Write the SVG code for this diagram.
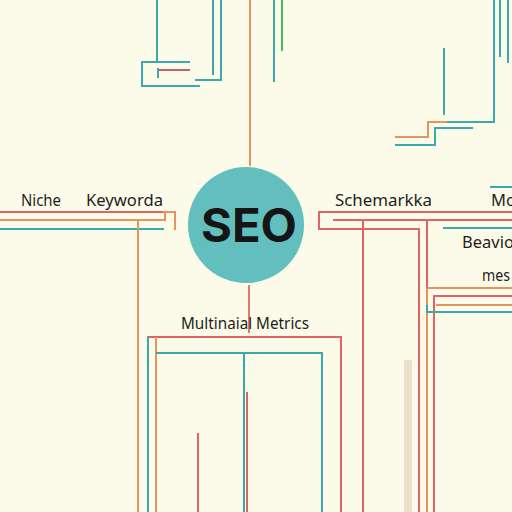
<svg xmlns="http://www.w3.org/2000/svg" width="512" height="512" viewBox="0 0 512 512">
<style>
.bg{fill:#fcfbe9}
.ln{fill:none;stroke-width:2;stroke-linecap:butt;stroke-linejoin:miter}
.t{stroke:#3aabaa}
.r{stroke:#e06464}
.o{stroke:#e6945e}
.g{stroke:#4cbb5c}
.lbl{font-family:"Noto Sans","Open Sans","Liberation Sans",sans-serif;font-size:16.5px;fill:#1e1e1e}
</style>
<rect class="bg" x="0" y="0" width="512" height="512"/>
<g id="connectors">
  <line class="ln o" x1="250" y1="0" x2="250" y2="166"/>
  <line class="ln t" x1="157" y1="0" x2="157" y2="63"/>
  <polyline class="ln t" points="190,62 142,62 142,86 200,86"/>
  <line class="ln t" x1="158" y1="68" x2="158" y2="78"/>
  <line class="ln r" x1="158" y1="70" x2="190" y2="70" style="stroke:#c0607a"/>
  <polyline class="ln t" points="221,0 221,80 195,80"/>
  <line class="ln t" x1="213" y1="0" x2="213" y2="75"/>
  <line class="ln t" x1="274" y1="0" x2="274" y2="82"/>
  <line class="ln g" x1="282" y1="0" x2="282" y2="51"/>
  <polyline class="ln t" points="494,0 494,122 447,122"/>
  <polyline class="ln o" points="447,122 428,122 428,137 395,137"/>
  <polyline class="ln t" points="473,128 435,128 435,145 395,145"/>
  <line class="ln t" x1="500" y1="0" x2="500" y2="57"/>
  <line class="ln t" x1="508" y1="0" x2="508" y2="63"/>
  <line class="ln t" x1="444" y1="48" x2="444" y2="115"/>
  <line class="ln r" x1="0" y1="212" x2="163" y2="212"/>
  <polyline class="ln o" points="163,212 175,212 175,230"/>
  <polyline class="ln o" points="0,220 165,220 165,212"/>
  <line class="ln t" x1="0" y1="229" x2="164" y2="229"/>
  <line class="ln o" x1="138" y1="220" x2="138" y2="512"/>
  <line class="ln o" x1="249" y1="285" x2="249" y2="333" style="stroke:#e07a60"/>
  <polyline class="ln t" points="148,512 148,337 150,337"/>
  <polyline class="ln r" points="148,337 341,337 341,512"/>
  <line class="ln o" x1="156" y1="337" x2="156" y2="512"/>
  <polyline class="ln t" points="156,353 322,353 322,512"/>
  <line class="ln t" x1="244" y1="353" x2="244" y2="512"/>
  <line class="ln r" x1="247" y1="392" x2="247" y2="512"/>
  <line class="ln r" x1="198" y1="433" x2="198" y2="512"/>
  <polyline class="ln r" points="512,212 319,212 319,229 419,229 419,512"/>
  <line class="ln r" x1="333" y1="220" x2="512" y2="220"/>
  <line class="ln r" x1="363" y1="220" x2="363" y2="512"/>
  <line class="ln r" x1="427" y1="220" x2="427" y2="288"/>
  <line class="ln o" x1="427" y1="288" x2="427" y2="512"/>
  <line class="ln o" x1="427" y1="288" x2="512" y2="288"/>
  <polyline class="ln r" points="512,296 434,296 434,512"/>
  <line class="ln o" x1="436" y1="305" x2="512" y2="305"/>
  <polyline class="ln t" points="427,305 427,312 512,312"/>
  <line class="ln t" x1="443" y1="228" x2="512" y2="228"/>
  <line class="ln t" x1="490" y1="187" x2="512" y2="187"/>
</g>
<rect x="404" y="360" width="8" height="152" fill="#e9dfcb"/>
<g id="seo">
  <circle cx="246" cy="225" r="58" fill="#62bfbd"/>
  <text x="249" y="242" text-anchor="middle" font-family="Inter,'Liberation Sans',sans-serif" font-weight="700" font-size="46" fill="#151515" textLength="96" lengthAdjust="spacingAndGlyphs">SEO</text>
</g>
<g id="niche"><text class="lbl" x="21" y="206" textLength="40" lengthAdjust="spacingAndGlyphs">Niche</text></g>
<g id="keyworda"><text class="lbl" x="86" y="206" textLength="77" lengthAdjust="spacingAndGlyphs">Keyworda</text></g>
<g id="schemarkka"><text class="lbl" x="335" y="206" textLength="97" lengthAdjust="spacingAndGlyphs">Schemarkka</text></g>
<g id="mo"><text class="lbl" x="491" y="206">Mo</text></g>
<g id="beavion"><text class="lbl" x="462" y="248">Beavion</text></g>
<g id="mes"><text class="lbl" x="482" y="281" textLength="28" lengthAdjust="spacingAndGlyphs">mes</text></g>
<g id="multinaial"><text class="lbl" x="181" y="329" textLength="128" lengthAdjust="spacingAndGlyphs">Multinaial Metrics</text></g>
</svg>
